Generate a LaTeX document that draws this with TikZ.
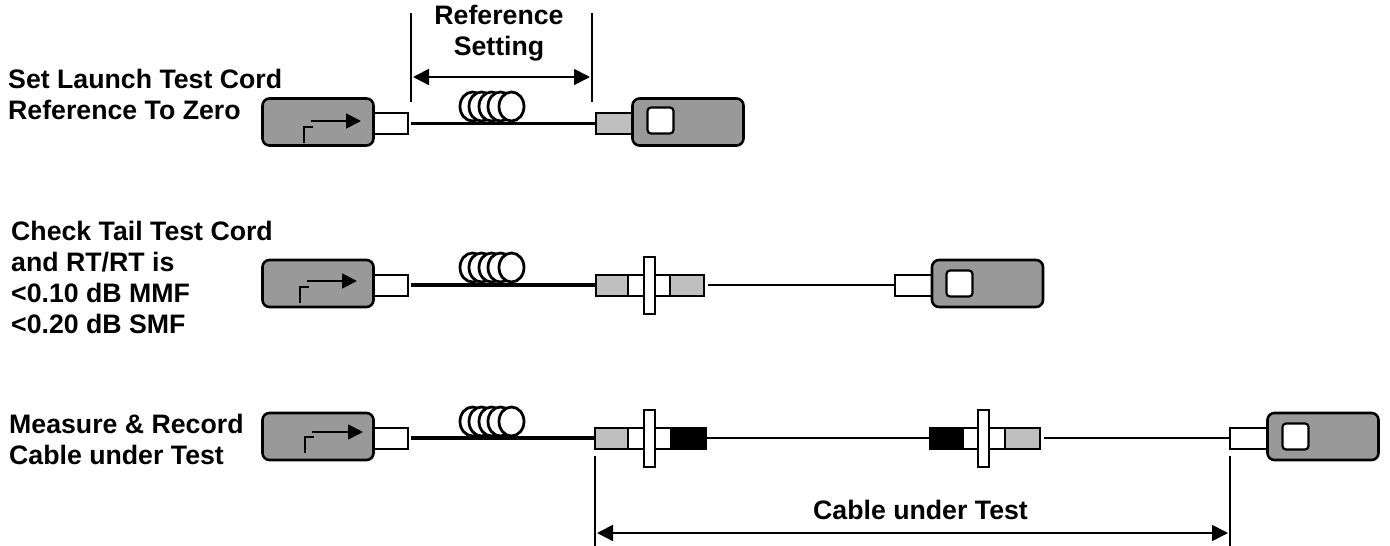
\documentclass[tikz,border=0pt]{standalone}
\usepackage{fontspec}
\setmainfont{Liberation Sans}
\usetikzlibrary{arrows.meta,shapes.geometric}
\tikzset{
  x=1pt,y=-1pt,
  inner sep=0pt,
  device/.style={draw=black,line width=2.6pt,fill=black!40,rounded corners=7pt,minimum width=111pt,minimum height=47pt},
  port/.style={draw=black,line width=2.2pt,fill=white,rounded corners=3.5pt,minimum width=26pt,minimum height=26pt},
  plug/.style={draw=black,line width=2pt,fill=white,rectangle,minimum height=21pt},
  greyplug/.style={plug,fill=black!25},
  blackplug/.style={plug,fill=black},
  flange/.style={draw=black,line width=2pt,fill=white,rectangle,minimum width=11pt,minimum height=57pt},
  heavyfibre/.style={line width=3.6pt},
  lightfibre/.style={line width=2.4pt},
  coilring/.style={ellipse,draw=black,line width=2.8pt,fill=white,minimum width=25pt,minimum height=29pt},
  sidetext/.style={font=\bfseries\fontsize{26.7}{31}\selectfont,align=left,anchor=west},
  centred/.style={font=\bfseries\fontsize{26.7}{31}\selectfont,align=center},
  dimline/.style={line width=1.8pt},
  dimarrow/.style={line width=1.8pt,<->,>={Triangle[length=16pt,width=16pt]}},
  signalarrow/.style={line width=1.8pt,-{Triangle[length=15pt,width=15pt]}},
  elbow/.style={line width=1.8pt},
}
\newcommand{\coilat}[3]{%
  \node[coilring] (#3a) at (#1-39,#2) {};
  \node[coilring] (#3b) at (#1-30,#2) {};
  \node[coilring] (#3c) at (#1-20,#2) {};
  \node[coilring] (#3d) at (#1-11,#2) {};
  \node[coilring] (#3e) at (#1,#2) {};
}
\newcommand{\boxrect}[5]{% name style x1 x2 ycentre
  \node[#2,minimum width=#4pt-#3pt] (#1) at ({(#3+#4)/2},#5) {};
}
\begin{document}
\begin{tikzpicture}
\useasboundingbox (0,0) rectangle (1390,546);

% row 1
\coilat{511.5}{106.5}{ca}
\boxrect{aplug}{plug}{374}{408}{123.5}
\node[device] (abox) at (318,122) {};
\boxrect{agrey}{greyplug}{596}{632}{123.5}
\draw[heavyfibre] (aplug.east) ++(2,0) -- ([xshift=2pt]agrey.west);
\node[device] (abox2) at (688,122) {};
\node[port] (aport) at (660.5,120.5) {};
\coordinate (asig) at (311,121);
\coordinate (asigend) at (361,121);
\draw[signalarrow] (asig) -- (asigend);
\coordinate (abendb) at (304,143);
\coordinate (abendt) at (313,127);
\draw[elbow] (abendb) |- (abendt);
\coordinate (ad1a) at (411,13);\coordinate (ad1b) at (411,102);
\coordinate (ad2a) at (592,13);\coordinate (ad2b) at (592,102);
\draw[dimline] (ad1a) -- (ad1b);
\draw[dimline] (ad2a) -- (ad2b);
\coordinate (ad3) at (413,77);\coordinate (ad4) at (590,77);
\draw[dimarrow] (ad3) -- (ad4);
\node[centred] (reftext) at (499,33.5) {Reference\\Setting};
\node[sidetext] (l1) at (8,94) {Set Launch Test Cord\\Reference To Zero};

% row 2
\coilat{511.5}{267.5}{cb}
\boxrect{bplug}{plug}{374}{408}{285}
\node[device] (bbox) at (318,283.5) {};
\boxrect{bg1}{greyplug}{596}{628}{285}
\boxrect{bw}{plug}{628}{670}{285}
\boxrect{bg2}{greyplug}{670}{704}{285}
\node[flange] (bfl) at (649,285.5) {};
\draw[heavyfibre] (bplug.east) ++(2,0) -- ([xshift=2pt]bg1.west);
\boxrect{bplug2}{plug}{895}{932}{285}
\draw[lightfibre] (bg2.east) ++(3,0) -- ([xshift=2pt]bplug2.west);
\node[device] (bbox2) at (987.5,283.5) {};
\node[port] (bport) at (959.5,283.5) {};
\coordinate (bsig) at (307,281);
\coordinate (bsigend) at (357,281);
\draw[signalarrow] (bsig) -- (bsigend);
\coordinate (bbendb) at (300,303);
\coordinate (bbendt) at (309,287);
\draw[elbow] (bbendb) |- (bbendt);
\node[sidetext] (l2) at (11,277) {Check Tail Test Cord\\and RT/RT is\\<0.10 dB MMF\\<0.20 dB SMF};

% row 3
\coilat{511.5}{421.5}{cc}
\boxrect{cplug}{plug}{374}{408}{438}
\node[device] (cbox) at (318,436.5) {};
\boxrect{cg1}{greyplug}{595}{628}{438}
\boxrect{cw1}{plug}{628}{671}{438}
\boxrect{ck1}{blackplug}{671}{706}{438}
\node[flange] (cfl1) at (649,438.5) {};
\draw[heavyfibre] (cplug.east) ++(2,0) -- ([xshift=2pt]cg1.west);
\boxrect{ck2}{blackplug}{930}{963}{438}
\boxrect{cw2}{plug}{963}{1005}{438}
\boxrect{cg2}{greyplug}{1005}{1040}{438}
\node[flange] (cfl2) at (983.5,438.5) {};
\draw[lightfibre] (ck1.east) -- (ck2.west);
\boxrect{cplug2}{plug}{1230}{1267}{438}
\draw[lightfibre] (cg2.east) ++(3,0) -- ([xshift=2pt]cplug2.west);
\node[device] (cbox2) at (1323,436.5) {};
\node[port] (cport) at (1295.5,436.5) {};
\coordinate (csig) at (312,432);
\coordinate (csigend) at (363,432);
\draw[signalarrow] (csig) -- (csigend);
\coordinate (cbendb) at (305,453);
\coordinate (cbendt) at (314,437);
\draw[elbow] (cbendb) |- (cbendt);
\node[sidetext] (l3) at (9,439) {Measure \& Record\\Cable under Test};
\coordinate (cd1a) at (595,456);\coordinate (cd1b) at (595,546);
\coordinate (cd2a) at (1230,456);\coordinate (cd2b) at (1230,546);
\draw[dimline] (cd1a) -- (cd1b);
\draw[dimline] (cd2a) -- (cd2b);
\coordinate (cd3) at (597,533);\coordinate (cd4) at (1228,533);
\draw[dimarrow] (cd3) -- (cd4);
\node[centred] (cut) at (920.5,510) {Cable under Test};
\end{tikzpicture}
\end{document}
